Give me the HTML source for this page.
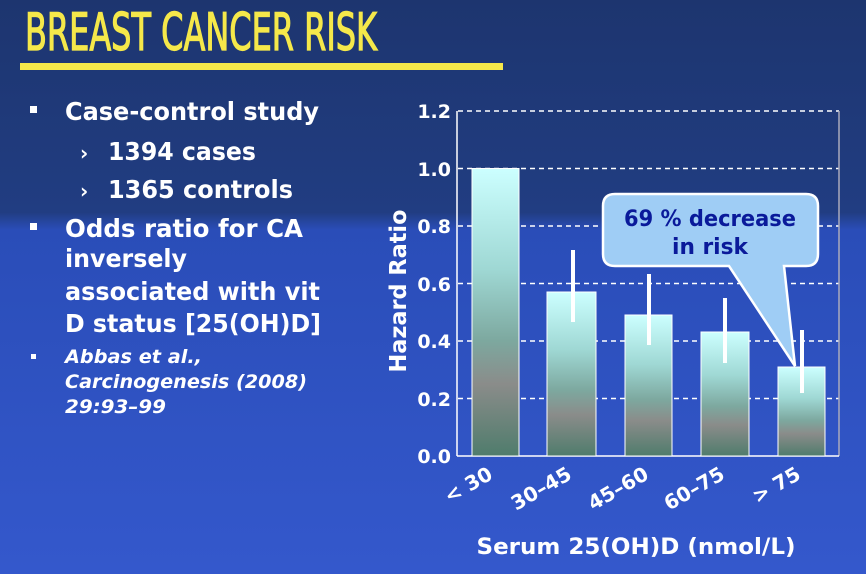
<!DOCTYPE html>
<html><head><meta charset="utf-8"><style>
html,body{margin:0;padding:0}
body{width:866px;height:574px;overflow:hidden;background:linear-gradient(#1d356f 0%,#213d82 37%,#2a4db8 40%,#3458cc 100%);font-family:"DejaVu Sans","Liberation Sans",sans-serif}
</style></head><body>
<svg width="866" height="574" xmlns="http://www.w3.org/2000/svg" style="position:absolute;left:0;top:0">
<defs>
<linearGradient id="bg" x1="0" y1="0" x2="0" y2="1">
<stop offset="0" stop-color="#ccffff"/><stop offset="0.35" stop-color="#9fd8d4"/><stop offset="0.6" stop-color="#7da89f"/><stop offset="0.75" stop-color="#8a8c8a"/><stop offset="1" stop-color="#4f7c6c"/>
</linearGradient>
</defs>
<text x="25" y="50" font-family="DejaVu Sans Condensed, DejaVu Sans, sans-serif" font-size="52" fill="#f5e84a" stroke="#f5e84a" stroke-width="1.2" textLength="352" lengthAdjust="spacingAndGlyphs">BREAST CANCER RISK</text>
<rect x="20" y="63" width="483" height="7" fill="#f5e84a"/>
<g fill="#fff" font-weight="bold" font-size="25" lengthAdjust="spacingAndGlyphs">
<rect x="30" y="106" width="7" height="7"/>
<text x="65" y="120" textLength="254" lengthAdjust="spacingAndGlyphs">Case-control study</text>
<text x="80" y="160" font-size="20">›</text><text x="108" y="160" textLength="148" lengthAdjust="spacingAndGlyphs">1394 cases</text>
<text x="80" y="198" font-size="20">›</text><text x="108" y="198" textLength="185" lengthAdjust="spacingAndGlyphs">1365 controls</text>
<rect x="30" y="223" width="7" height="7"/>
<text x="65" y="237" textLength="238" lengthAdjust="spacingAndGlyphs">Odds ratio for CA</text>
<text x="65" y="267" textLength="122" lengthAdjust="spacingAndGlyphs">inversely</text>
<text x="65" y="300" textLength="255" lengthAdjust="spacingAndGlyphs">associated with vit</text>
<text x="65" y="332" textLength="256" lengthAdjust="spacingAndGlyphs">D status [25(OH)D]</text>
</g>
<g fill="#fff" font-weight="bold" font-style="italic" font-size="19">
<rect x="31" y="354" width="5" height="5"/>
<text x="65" y="363" textLength="137" lengthAdjust="spacingAndGlyphs">Abbas et al.,</text>
<text x="65" y="388" textLength="242" lengthAdjust="spacingAndGlyphs">Carcinogenesis (2008)</text>
<text x="65" y="413" textLength="101" lengthAdjust="spacingAndGlyphs">29:93–99</text>
</g>
<g stroke="#fff" stroke-width="1.5" stroke-dasharray="5,4">
<line x1="458" y1="111" x2="839" y2="111"/><line x1="458" y1="168.5" x2="839" y2="168.5"/>
<line x1="458" y1="226" x2="839" y2="226"/><line x1="458" y1="283.5" x2="839" y2="283.5"/>
<line x1="458" y1="341" x2="839" y2="341"/><line x1="458" y1="398.5" x2="839" y2="398.5"/>
</g>
<line x1="457" y1="111" x2="457" y2="456" stroke="#fff" stroke-width="1.5"/>
<line x1="839" y1="111" x2="839" y2="456" stroke="#aab" stroke-width="1.5"/>
<line x1="457" y1="456" x2="839" y2="456" stroke="#fff" stroke-width="1.5"/>
<g font-weight="bold" font-size="19" fill="#fff" text-anchor="end">
<text x="451" y="118">1.2</text><text x="451" y="176">1.0</text><text x="451" y="233">0.8</text>
<text x="451" y="291">0.6</text><text x="451" y="348">0.4</text><text x="451" y="406">0.2</text><text x="451" y="463">0.0</text>
</g>
<g fill="url(#bg)" stroke="#fff" stroke-width="1">
<rect x="472" y="168.5" width="47" height="287.5"/>
<rect x="547" y="292" width="49" height="164"/>
<rect x="625" y="315" width="47" height="141"/>
<rect x="701" y="332" width="48" height="124"/>
<rect x="778" y="367" width="47" height="89"/>
</g>
<g stroke="#fff" stroke-width="4">
<line x1="573" y1="250" x2="573" y2="322"/>
<line x1="649" y1="274" x2="649" y2="345"/>
<line x1="725" y1="298" x2="725" y2="363"/>
<line x1="802" y1="330" x2="802" y2="393"/>
</g>
<path d="M615,194 H806 Q818,194 818,206 V254 Q818,266 806,266 H784 L795,366 L729,266 H615 Q603,266 603,254 V206 Q603,194 615,194 Z" fill="#9fcdf5" stroke="#fff" stroke-width="2.5"/>
<g fill="#0a1a9a" font-weight="bold" font-size="22" text-anchor="middle">
<text x="710" y="226" textLength="172" lengthAdjust="spacingAndGlyphs">69 % decrease</text><text x="710" y="254" textLength="76" lengthAdjust="spacingAndGlyphs">in risk</text>
</g>
<text transform="translate(406,291) rotate(-90)" fill="#fff" font-weight="bold" font-size="23" text-anchor="middle" textLength="163" lengthAdjust="spacingAndGlyphs">Hazard Ratio</text>
<g fill="#fff" font-weight="bold" font-size="20" text-anchor="end">
<text transform="translate(494,478) rotate(-30)">&lt; 30</text>
<text transform="translate(573,478) rotate(-30)">30–45</text>
<text transform="translate(650,478) rotate(-30)">45–60</text>
<text transform="translate(726,478) rotate(-30)">60–75</text>
<text transform="translate(802,478) rotate(-30)">&gt; 75</text>
</g>
<text x="636" y="554" fill="#fff" font-weight="bold" font-size="22" text-anchor="middle" textLength="319" lengthAdjust="spacingAndGlyphs">Serum 25(OH)D (nmol/L)</text>
</svg>
</body></html>
